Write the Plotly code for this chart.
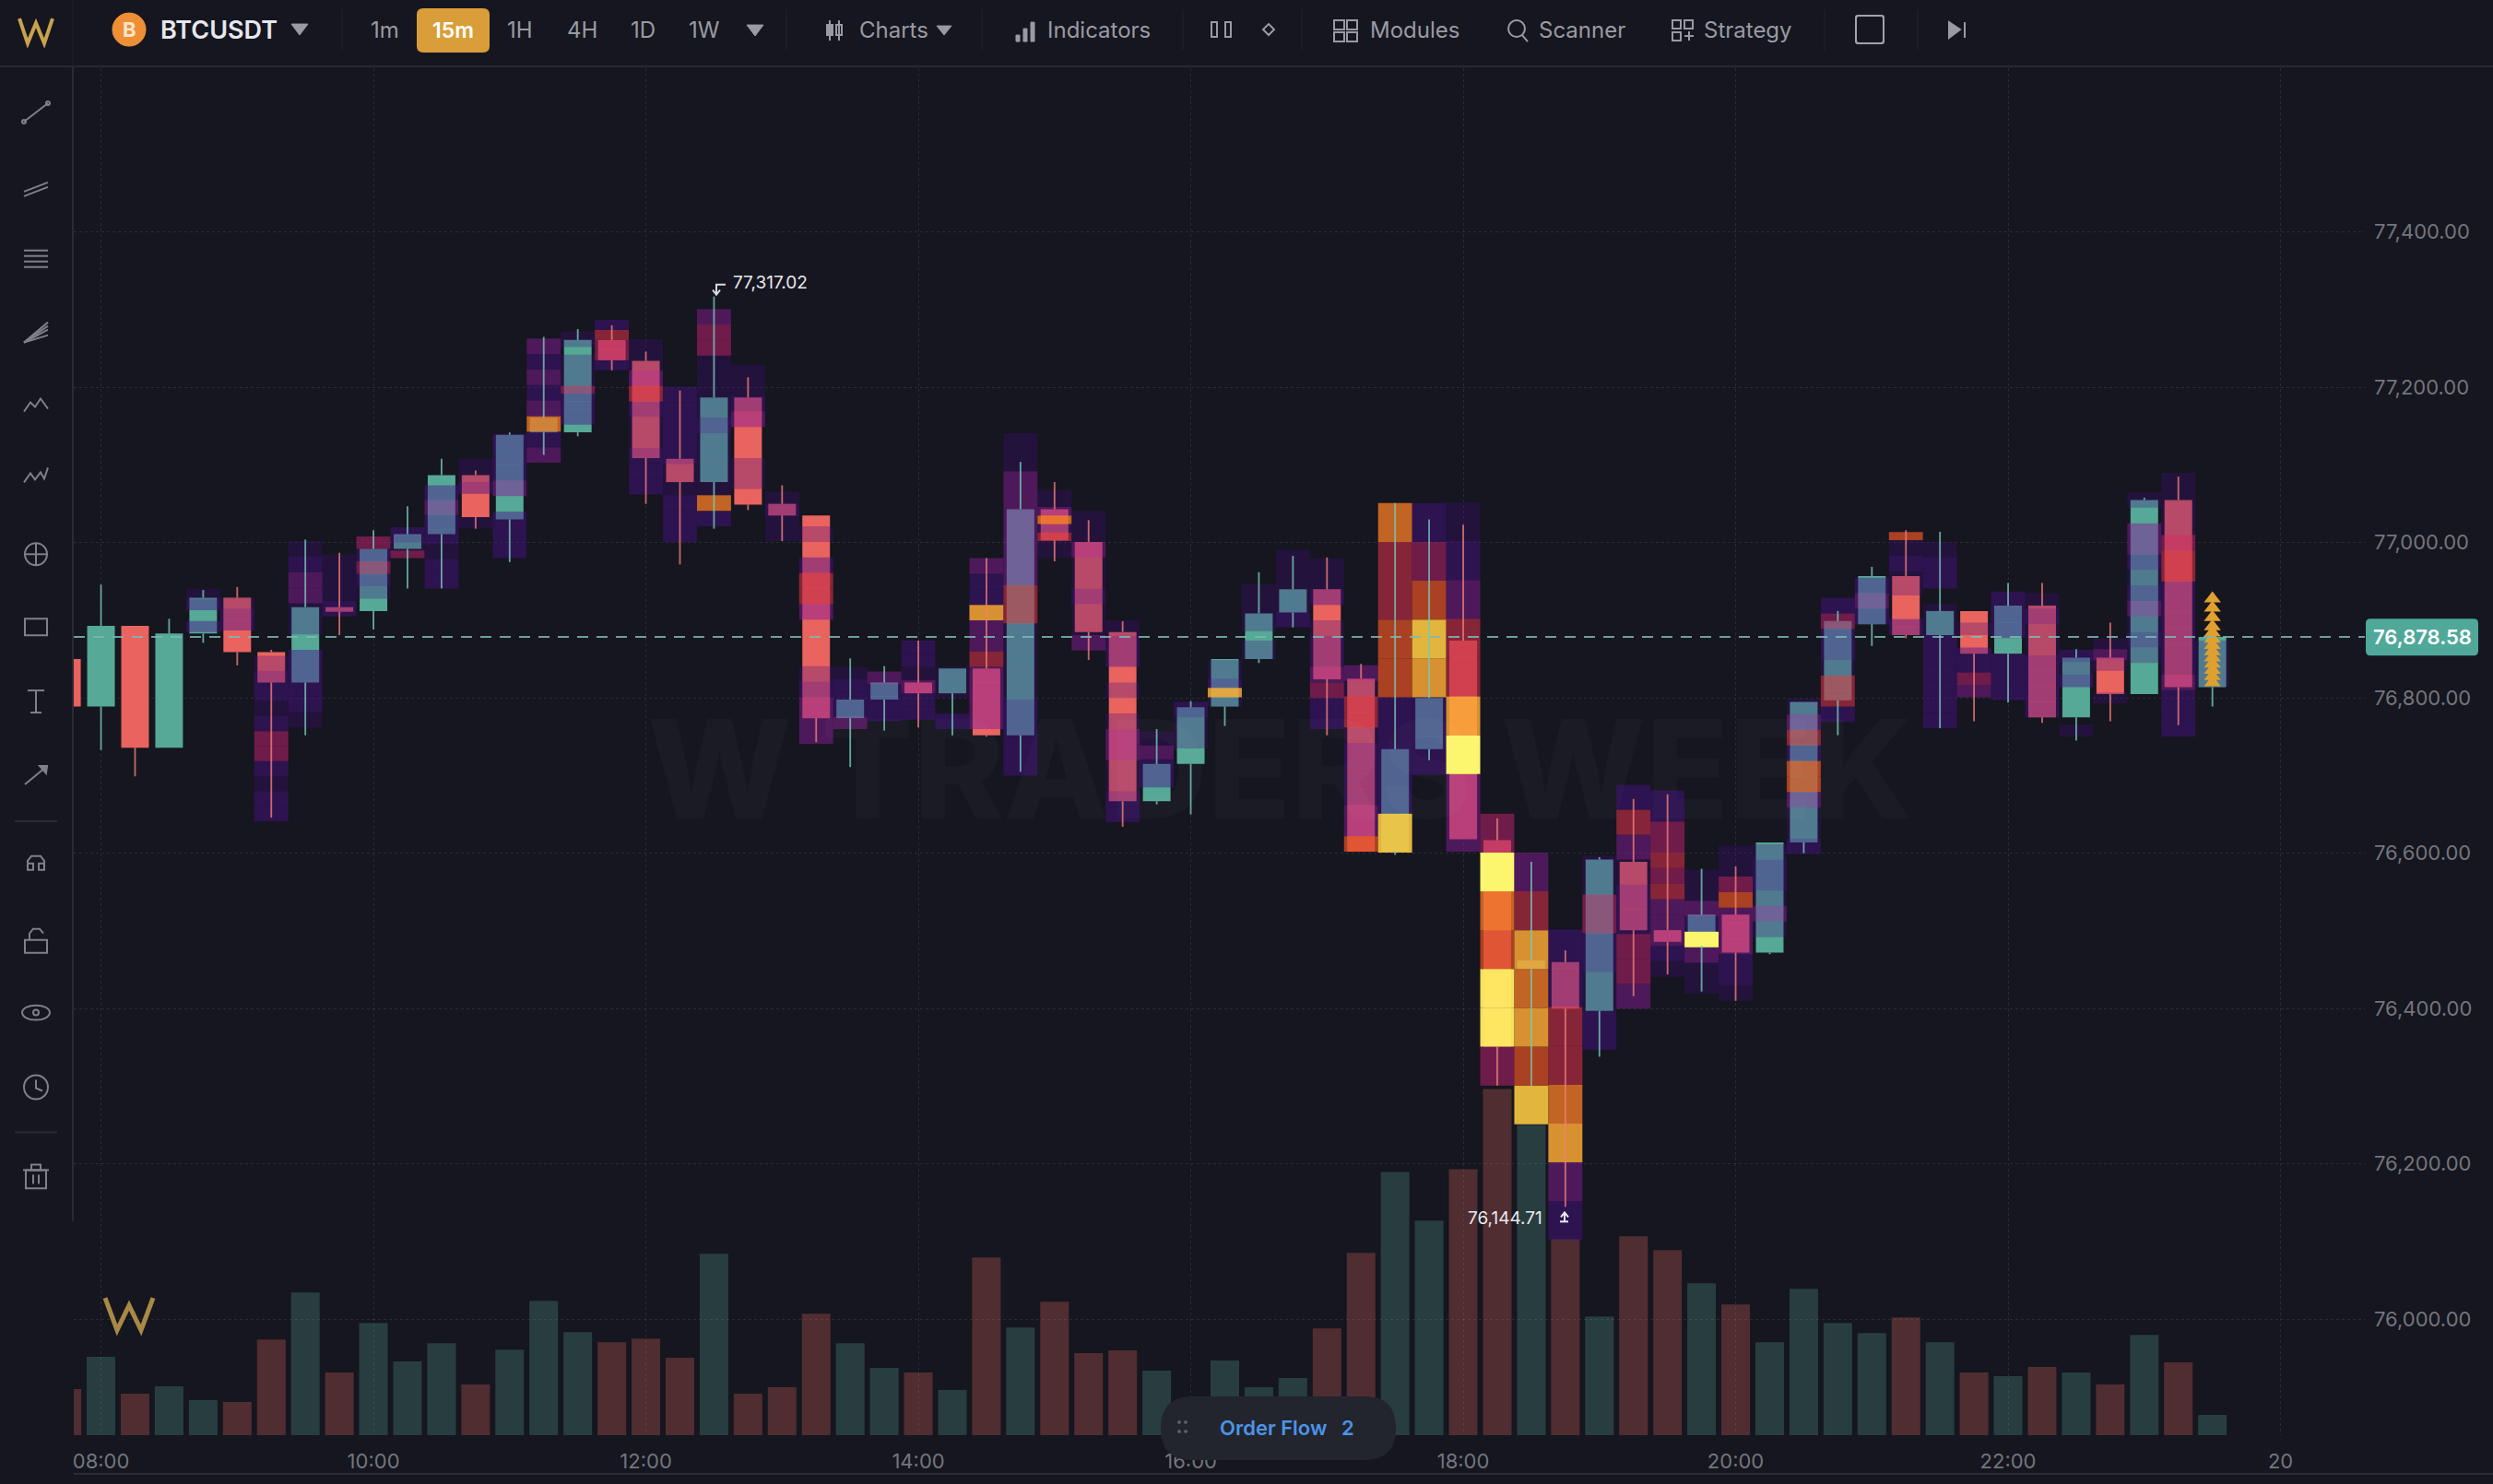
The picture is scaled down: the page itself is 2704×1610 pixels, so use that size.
import plotly.graph_objects as go

W, H = 2704, 1610
M_L, M_R, M_T, M_B = 80, 139, 74, 51

times = ["07:45", "08:00", "08:15", "08:30", "08:45", "09:00", "09:15", "09:30", "09:45", "10:00", "10:15",
         "10:30", "10:45", "11:00", "11:15", "11:30", "11:45", "12:00", "12:15", "12:30", "12:45", "13:00",
         "13:15", "13:30", "13:45", "14:00", "14:15", "14:30", "14:45", "15:00", "15:15", "15:30", "15:45",
         "16:00", "16:15", "16:30", "16:45", "17:00", "17:15", "17:30", "17:45", "18:00", "18:15", "18:30",
         "18:45", "19:00", "19:15", "19:30", "19:45", "20:00", "20:15", "20:30", "20:45", "21:00", "21:15",
         "21:30", "21:45", "22:00", "22:15", "22:30", "22:45", "23:00", "23:15", "23:30"]

opens = [76850, 76789, 76893, 76736, 76883, 76929, 76859, 76820, 76917, 76912, 76992,
         77011, 77087, 77030, 77142, 77142, 77261, 77234, 77108, 77078, 77187, 77050,
         77035, 76774, 76798, 76820, 76806, 76838, 76752, 77043, 77001, 76885, 76667,
         76715, 76789, 76850, 76910, 76940, 76825, 76602, 76734, 76874, 76617, 76451,
         76460, 76397, 76589, 76501, 76481, 76521, 76472, 76614, 76797, 76895, 76957,
         76881, 76912, 76857, 76919, 76775, 76852, 76805, 77055, 76814]
highs = [76850, 76946, 76893, 76902, 76939, 76943, 76862, 77004, 76987, 77016, 77047,
         77108, 77093, 77142, 77265, 77275, 77280, 77246, 77196, 77317.02, 77213, 77074,
         77035, 76851, 76841, 76874, 76838, 76980, 77104, 77078, 77029, 76899, 76760,
         76796, 76850, 76962, 76983, 76981, 76844, 77051, 77030, 77023, 76645, 76589,
         76475, 76595, 76670, 76676, 76580, 76583, 76614, 76795, 76912, 76969, 77016,
         77014, 76912, 76948, 76948, 76863, 76897, 77058, 77085, 76885]
lows = [76789, 76733, 76699, 76736, 76871, 76842, 76646, 76752, 76881, 76888, 76941,
        76941, 77018, 76975, 77113, 77137, 77222, 77050, 76972, 77018, 77042, 77002,
        76743, 76711, 76758, 76762, 76752, 76750, 76705, 76976, 76849, 76634, 76663,
        76650, 76764, 76845, 76891, 76752, 76602, 76598, 76720, 76618, 76301, 76301,
        76144.71, 76338, 76416, 76444, 76422, 76410, 76470, 76600, 76752, 76867, 76877,
        76761, 76770, 76794, 76768, 76745, 76770, 76805, 76765, 76789]
closes = [76789, 76893, 76736, 76883, 76929, 76859, 76820, 76917, 76911, 76992, 77011,
          77087, 77033, 77139, 77161, 77261, 77235, 77109, 77078, 77187, 77049, 77035,
          76774, 76798, 76820, 76806, 76838, 76752, 77043, 77003, 76885, 76667, 76715,
          76788, 76850, 76909, 76940, 76824, 76602, 76734, 76800, 76618, 76351, 76462,
          76400, 76592, 76501, 76486, 76521, 76472, 76614, 76795, 76899, 76957, 76881,
          76912, 76857, 76919, 76775, 76852, 76805, 77055, 76814, 76878.58]
volumes = [50, 85, 45, 53, 38, 36, 104, 155, 68, 122, 80,
           100, 55, 93, 146, 112, 101, 105, 84, 197, 45, 52,
           132, 100, 73, 68, 49, 193, 117, 145, 89, 92, 70,
           30, 81, 52, 62, 116, 198, 286, 233, 289, 376, 337,
           213, 129, 216, 201, 165, 142, 101, 159, 122, 111, 128,
           101, 68, 64, 74, 68, 55, 109, 79, 22]

# order flow heat, per candle: lowest price of the bins, bin height, heat level of each bin going up
heat_low = [76789, 76733, 76699, 76736, 76871, 76859, 76641, 76762, 76905, 76912, 76980,
            76941, 77018, 76980, 77103, 77142, 77222, 77062, 77001, 77021, 77049, 77002,
            76741, 76760, 76770, 76772, 76760, 76760, 76700, 76980, 76861, 76640, 76667,
            76715, 76789, 76850, 76891, 76760, 76602, 76601, 76701, 76602, 76301, 76251,
            76102, 76347, 76400, 76441, 76419, 76410, 76472, 76599, 76769, 76895, 76881,
            76761, 76801, 76797, 76775, 76750, 76793, 76805, 76750, 76814]
heat_step = [20, 20, 20, 20, 14, 14, 19.4, 20, 20, 16, 10,
             19, 15, 20, 20, 10, 13, 20, 20, 20, 20, 16,
             20, 16, 16, 17, 20, 20, 49, 11, 20, 20, 18,
             20, 12, 12, 20, 20, 20, 50, 50, 50, 50, 50,
             50, 50, 32, 20, 20, 20, 20, 20, 20, 20, 10.2,
             20, 16, 20, 20, 16, 14, 20, 20, 20]
heat_levels = [[], [], [], [],
               [0, 2, 0, 2, 1],
               [0, 0, 2, 2, 1],
               [2, 2, 1, 2, 4, 4, 2, 1, 2, 2, 1],
               [1, 2, 2, 2, 2, 0, 1, 1, 3, 3, 2, 1],
               [2, 1, 1, 1],
               [0, 1, 2, 4, 2, 4],
               [4, 1, 2, 2],
               [2, 2, 1, 2, 2, 3, 2, 0],
               [1, 0, 0, 2, 1, 1],
               [2, 2, 2, 0, 3, 2, 2, 2],
               [3, 2, 7, 3, 2, 3, 2, 3],
               [0, 2, 2, 2, 2, 4, 1, 1, 1, 1, 0, 1, 1],
               [2, 4, 4, 5, 2],
               [2, 2, 2, 1, 1, 2, 5, 3, 1, 1],
               [2, 2, 2, 1, 1, 2, 2, 2, 2, 2],
               [2, 7, 1, 1, 1, 1, 2, 1, 1, 1, 1, 4, 4, 3],
               [0, 1, 1, 0, 0, 3, 2, 1, 1],
               [1, 1, 2, 1],
               [3, 3, 3, 2, 1, 0, 0, 0, 3, 5, 5, 2, 0, 1, 0],
               [3, 2, 2, 2, 1],
               [2, 2, 2, 3],
               [2, 2, 3, 1, 2, 2],
               [2, 0, 1, 1],
               [3, 3, 3, 3, 5, 3, 3, 8, 2, 2, 3],
               [2, 2, 1, 1, 5, 3, 3, 3, 1],
               [1, 1, 5, 2, 7, 3, 1, 1],
               [3, 1, 1, 2, 1, 1, 3, 1, 1],
               [2, 2, 1, 1, 3, 3, 1, 0, 1, 0, 2, 2, 1],
               [0, 2, 2, 3, 1],
               [0, 1, 1, 2],
               [1, 8, 2, 1, 1],
               [1, 1, 0, 1, 1, 1, 1, 1],
               [2, 1, 1, 1, 1],
               [2, 2, 4, 3, 2, 2, 1, 0, 2, 1, 1],
               [6, 3, 3, 2, 2, 2, 2, 1, 5, 5, 1, 3],
               [9, 2, 2, 2, 6, 6, 5, 5, 7],
               [2, 2, 8, 9, 6, 4, 2],
               [3, 3, 11, 8, 5, 5, 3, 2, 1],
               [4, 10, 10, 6, 7, 11, 4],
               [9, 6, 8, 7, 8, 5, 3],
               [2, 3, 8, 7, 5, 5, 2, 2],
               [2, 1, 2, 4, 1],
               [3, 4, 4, 2, 2, 1, 3, 5, 2],
               [1, 2, 3, 3, 3, 5, 4, 5, 4, 4, 2, 2],
               [1, 1, 3, 11, 2, 3, 1, 1],
               [1, 2, 2, 3, 3, 3, 6, 4, 1, 1],
               [0, 1, 3, 1, 2, 2, 1],
               [2, 1, 1, 3, 6, 6, 2, 5, 3, 1],
               [2, 5, 5, 1, 2, 2, 4, 2],
               [2, 3, 2],
               [2, 2, 0, 0, 0, 1, 1, 1, 2, 2, 1, 1, 6],
               [2, 2, 2, 2, 2, 2, 1, 1, 0, 2, 2, 1],
               [3, 4, 2, 2, 0, 1, 0],
               [2, 2, 2, 0, 2, 2, 2],
               [2, 2, 2, 2, 1, 1, 2, 1],
               [1, 0, 0, 0, 2, 1, 2],
               [1, 0, 0, 1, 3, 1],
               [0, 0, 1, 2, 1, 3, 2, 1, 2, 3, 3, 0, 1],
               [2, 2, 2, 3, 2, 2, 2, 2, 2, 2, 5, 5, 4, 1, 1, 1, 1],
               [1, 1, 1]]

arrow_time = "23:30"
arrow_prices = [76820, 76828, 76836, 76844, 76852, 76860, 76868, 76876, 76884, 76892, 76904, 76916, 76928]
last_price = 76878.58
price_ticks = [76000, 76200, 76400, 76600, 76800, 77000, 77200, 77400]
hour_ticks = [8, 10, 12, 14, 16, 18, 20, 22, 24]
hour_labels = ["08:00", "10:00", "12:00", "14:00", "16:00", "18:00", "20:00", "22:00", "20"]

BG = "#15161f"
GREEN = "#55a996"
RED = "#e9635f"
ICON = "#7f8088"
TXT = "#9a9aa3"
GOLD = "#c9a24e"
FONT = "Inter"

heat_colors = [None,
               "rgba(70,12,128,0.30)", "rgba(76,15,140,0.45)", "rgba(135,27,149,0.50)",
               "rgba(172,34,104,0.60)", "rgba(196,46,70,0.65)", "rgba(220,80,36,0.75)",
               "rgba(238,120,36,0.80)", "rgba(249,167,53,0.85)", "rgba(248,198,63,0.90)",
               "rgba(255,236,98,0.95)", "rgba(252,245,110,1)"]

hours = [int(t[:2]) + int(t[3:]) / 60 for t in times]
up = [c >= o for o, c in zip(opens, closes)]

cell_x, cell_base, cell_h, cell_col = [], [], [], []
for hr, low, step, levels in zip(hours, heat_low, heat_step, heat_levels):
    for n, lev in enumerate(levels):
        if lev == 0:
            continue
        cell_x.append(hr)
        cell_base.append(low + n * step)
        cell_h.append(step)
        cell_col.append(heat_colors[lev])

body_top = [max(o, c) for o, c in zip(opens, closes)]
body_bot = [min(o, c) for o, c in zip(opens, closes)]
wick_col = ["rgba(120,200,185,0.8)" if u else "rgba(240,125,120,0.8)" for u in up]

fig = go.Figure()

# volume sits on its own hidden axis, under everything
fig.add_trace(go.Bar(x=hours, y=volumes, width=0.21, yaxis="y2", hoverinfo="skip",
                     marker=dict(color=["rgba(89,164,150,0.28)" if u else "rgba(235,107,92,0.28)" for u in up],
                                 line_width=0)))
# bodies
fig.add_trace(go.Bar(x=hours, y=[t - b for t, b in zip(body_top, body_bot)], base=body_bot, width=0.203,
                     hoverinfo="skip", marker=dict(color=[GREEN if u else RED for u in up], line_width=0)))
# heat goes over the bodies, it is see through except at the hot end
fig.add_trace(go.Bar(x=cell_x, y=cell_h, base=cell_base, width=0.25, hoverinfo="skip",
                     marker=dict(color=cell_col, line_width=0)))
# wicks stay readable on top of the heat
fig.add_trace(go.Bar(x=hours, y=[h - t for h, t in zip(highs, body_top)], base=body_top, width=0.0125,
                     hoverinfo="skip", marker=dict(color=wick_col, line_width=0)))
fig.add_trace(go.Bar(x=hours, y=[b - l for b, l in zip(body_bot, lows)], base=lows, width=0.0125,
                     hoverinfo="skip", marker=dict(color=wick_col, line_width=0)))
arrow_hour = int(arrow_time[:2]) + int(arrow_time[3:]) / 60
fig.add_trace(go.Scatter(x=[arrow_hour] * len(arrow_prices), y=arrow_prices, mode="markers", hoverinfo="skip",
                         marker=dict(symbol="triangle-up", size=16, color="#e0a030", line_width=0)))

shapes, notes = [], []


# paper coords count from the plot area, so page pixels have to go through the margins
def fx(x):
    return (x - M_L) / (W - M_L - M_R)


def fy(y):
    return 1 - (y - M_T) / (H - M_T - M_B)


def poly(points, color=ICON, width=2, close=False, fill=None):
    d = "M " + " L ".join(f"{fx(x):.5f} {fy(y):.5f}" for x, y in points)
    if close:
        d += " Z"
    shapes.append(dict(type="path", path=d, xref="paper", yref="paper", layer="above",
                       line=dict(color=color, width=width), fillcolor=fill))


def box(x0, y0, x1, y1, color=ICON, width=2, fill=None):
    shapes.append(dict(type="rect", x0=fx(x0), x1=fx(x1), y0=fy(y1), y1=fy(y0), xref="paper", yref="paper",
                       layer="above", line=dict(color=color, width=width), fillcolor=fill))


def round_box(x0, y0, x1, y1, r, fill):
    pts = f"M {fx(x0 + r):.5f} {fy(y0):.5f} L {fx(x1 - r):.5f} {fy(y0):.5f} " \
          f"Q {fx(x1):.5f} {fy(y0):.5f} {fx(x1):.5f} {fy(y0 + r):.5f} L {fx(x1):.5f} {fy(y1 - r):.5f} " \
          f"Q {fx(x1):.5f} {fy(y1):.5f} {fx(x1 - r):.5f} {fy(y1):.5f} L {fx(x0 + r):.5f} {fy(y1):.5f} " \
          f"Q {fx(x0):.5f} {fy(y1):.5f} {fx(x0):.5f} {fy(y1 - r):.5f} L {fx(x0):.5f} {fy(y0 + r):.5f} " \
          f"Q {fx(x0):.5f} {fy(y0):.5f} {fx(x0 + r):.5f} {fy(y0):.5f} Z"
    shapes.append(dict(type="path", path=pts, xref="paper", yref="paper", layer="above",
                       line_width=0, fillcolor=fill))


def ring(cx, cy, r, color=ICON, width=2, fill=None, ry=None):
    ry = ry or r
    shapes.append(dict(type="circle", x0=fx(cx - r), x1=fx(cx + r), y0=fy(cy + ry), y1=fy(cy - ry), xref="paper",
                       yref="paper", layer="above", line=dict(color=color, width=width), fillcolor=fill))


def label(x, y, text, size=22, color=TXT, weight=400, anchor="center"):
    notes.append(dict(x=fx(x), y=fy(y), xref="paper", yref="paper", text=text, showarrow=False, xanchor=anchor,
                      yanchor="middle", font=dict(family=FONT, size=size, color=color, weight=weight)))


# watermark, goes first so the rest draws over it
label(1388, 836, "W TRADERS WEEK", size=148, color="rgba(255,255,255,0.025)", weight=800)

# frame lines
poly([(0, 72), (W, 72)], color="#272831", width=2)
poly([(79, 0), (79, 72)], color="#20212a", width=1)
poly([(79, 72), (79, 1327)], color="#2a2b34", width=2)
poly([(80, 1601), (W, 1601)], color="#2a2b35", width=2)
for sx in [371, 853, 1065, 1283, 1412, 1979, 2080]:
    poly([(sx, 10), (sx, 54)], color="#24252e", width=1)

# top bar
poly([(21, 20), (30, 47), (39, 25), (48, 47), (57, 20)], color=GOLD, width=4)
ring(140, 32, 18, color="#f0973a", width=1, fill="#ee8f35")
label(140, 32, "B", size=22, color="#fbe6cc", weight=700)
label(237, 32, "BTCUSDT", size=27, color="#e7e7ee", weight=600)
poly([(316, 26), (334, 26), (325, 38)], color=TXT, width=1, close=True, fill=TXT)
for tx, name in [(417, "1m"), (564, "1H"), (631, "4H"), (697, "1D"), (764, "1W")]:
    label(tx, 32, name, size=24)
round_box(452, 9, 531, 57, 7, "#d99e3a")
label(491, 33, "15m", size=23, color="#ffffff", weight=600)
poly([(810, 27), (828, 27), (819, 39)], color=TXT, width=1, close=True, fill=TXT)

poly([(900, 22), (900, 44)], color=TXT, width=2)
box(897, 27, 903, 38, color=TXT, fill=TXT)
poly([(910, 22), (910, 44)], color=TXT, width=2)
box(907, 27, 913, 38, color=TXT)
label(969, 32, "Charts", size=24)
poly([(1016, 28), (1032, 28), (1024, 38)], color=TXT, width=1, close=True, fill=TXT)

for bx, top in [(1104, 38), (1112, 31), (1120, 24)]:
    box(bx - 2, top, bx + 2, 45, color=TXT, width=1, fill=TXT)
label(1192, 32, "Indicators", size=24)

box(1314, 24, 1320, 40, color=TXT)
box(1329, 24, 1335, 40, color=TXT)
poly([(1376, 26), (1382, 32), (1376, 38), (1370, 32)], color=TXT, close=True)

for bx, by in [(1447, 22), (1461, 22), (1447, 35), (1461, 35)]:
    box(bx, by, bx + 11, by + 10, color=TXT)
label(1535, 32, "Modules", size=24)
ring(1645, 31, 9, color=TXT)
poly([(1651, 38), (1657, 45)], color=TXT)
label(1716, 32, "Scanner", size=24)
for bx, by in [(1814, 22), (1827, 22), (1814, 35)]:
    box(bx, by, bx + 9, by + 9, color=TXT)
poly([(1827, 39), (1837, 39)], color=TXT)
poly([(1832, 34), (1832, 44)], color=TXT)
label(1896, 32, "Strategy", size=24)
round_box(2012, 16, 2044, 48, 3, "#a3a3ab")
round_box(2014, 18, 2042, 46, 2, BG)
poly([(2114, 24), (2126, 32), (2114, 41)], color=TXT, close=True, fill=TXT)
poly([(2131, 24), (2131, 41)], color=TXT)

# left tools
poly([(26, 132), (52, 112)])
ring(26, 132, 2)
ring(52, 112, 2)
poly([(26, 208), (52, 198)])
poly([(26, 213), (52, 203)])
for ly in [272, 278, 284, 290]:
    poly([(26, ly), (52, ly)])
for ry_ in [350, 354, 358, 364]:
    poly([(26, 372), (52, ry_)])
poly([(26, 447), (33, 437), (38, 442), (44, 433), (52, 444)])
poly([(26, 524), (33, 514), (38, 521), (44, 513), (48, 520), (52, 508)])
ring(39, 602, 12)
poly([(27, 602), (51, 602)])
poly([(39, 590), (39, 614)])
box(27, 672, 51, 690)
poly([(30, 750), (48, 750)])
poly([(39, 750), (39, 774)])
poly([(33, 774), (45, 774)])
poly([(27, 852), (50, 833)])
poly([(43, 832), (51, 832), (50, 840)], close=True, fill=ICON)
poly([(16, 892), (62, 892)], color="#2a2b34")
poly([(30, 943), (30, 935), (34, 930), (44, 930), (48, 935), (48, 943)])
box(30, 938, 36, 945)
box(42, 938, 48, 945)
poly([(16, 1230), (62, 1230)], color="#2a2b34")
box(27, 1021, 51, 1035)
poly([(32, 1021), (32, 1014), (36, 1009), (43, 1009), (47, 1014)])
ring(39, 1100, 15, ry=8)
ring(39, 1100, 3)
ring(39, 1181, 13)
poly([(39, 1173), (39, 1182), (46, 1185)])
box(28, 1271, 50, 1291)
poly([(25, 1271), (53, 1271)])
box(34, 1265, 44, 1271)
poly([(36, 1276), (36, 1286)])
poly([(42, 1276), (42, 1286)])

# small W on the volume pane
poly([(114, 1410), (127, 1445), (140, 1418), (153, 1445), (166, 1410)], color="#a88a45", width=5)

# hi and lo callouts
high_x = hours[highs.index(max(highs))]
notes.append(dict(x=high_x, y=max(highs), text="77,317.02", showarrow=False, xanchor="left", yanchor="middle",
                  xshift=19, yshift=15, font=dict(family=FONT, size=19, color="#e8e8ee")))
poly([(787, 309), (777, 309), (777, 319)], color="#d8d8de", width=2)
poly([(773, 315), (777, 320), (781, 315)], color="#d8d8de", width=2)
low_x = hours[lows.index(min(lows))]
notes.append(dict(x=low_x, y=min(lows), text="76,144.71", showarrow=False, xanchor="right", yanchor="middle",
                  xshift=-23, yshift=-12, font=dict(family=FONT, size=19, color="#e8e8ee")))
poly([(1692, 1327), (1701, 1327)], color="#e8e8ee", width=2)
poly([(1697, 1327), (1697, 1318)], color="#e8e8ee", width=2)
poly([(1693, 1322), (1697, 1317), (1701, 1322)], color="#e8e8ee", width=2)

# last price line and tag
shapes.append(dict(type="line", xref="x", yref="y", x0=7.8, x1=24.619, y0=last_price, y1=last_price, layer="above",
                   line=dict(color="rgba(125,185,176,0.85)", width=2, dash="12px,9px")))
round_box(2566, 672, 2688, 712, 5, "#4fa89a")
label(2627, 692, f"{last_price:,.2f}", size=22, color="#ffffff", weight=600)

# order flow pill
round_box(1259, 1517, 1514, 1586, 34, "#22252e")
for dx, dy in [(1279, 1545), (1286, 1545), (1279, 1555), (1286, 1555)]:
    ring(dx, dy, 1.5, color="#5a5c66", width=1, fill="#5a5c66")
label(1381, 1551, "Order Flow", size=22, color="#4d93e6", weight=600)
label(1462, 1551, "2", size=22, color="#4d93e6", weight=600)

fig.update_layout(
    width=W, height=H, autosize=False, showlegend=False, barmode="overlay",
    paper_bgcolor=BG, plot_bgcolor=BG,
    margin=dict(l=M_L, r=M_R, t=M_T, b=M_B, pad=0),
    font=dict(family=FONT, color="#74757d", size=22),
    shapes=shapes, annotations=notes,
    xaxis=dict(range=[7.8, 24.619], tickmode="array", tickvals=hour_ticks, ticktext=hour_labels, zeroline=False,
               showline=False, showgrid=True, gridcolor="rgba(255,255,255,0.09)", griddash="dot", gridwidth=1,
               ticks="", ticklabelstandoff=13, tickfont=dict(size=22, color="#74757d")),
    yaxis=dict(range=[75850.7, 77611], side="right", overlaying="y2", tickmode="array", tickvals=price_ticks,
               tickformat=",.2f", showgrid=True, gridcolor="rgba(255,255,255,0.09)", griddash="dot", gridwidth=1,
               zeroline=False, showline=False, ticks="", ticklabelstandoff=9, tickfont=dict(size=22, color="#74757d")),
    yaxis2=dict(range=[0, 1485], visible=False, showgrid=False, zeroline=False),
)

fig.write_html("out.html", config=dict(displayModeBar=False),
               post_script="document.body.style.margin='0';document.body.style.background='%s';" % BG)
